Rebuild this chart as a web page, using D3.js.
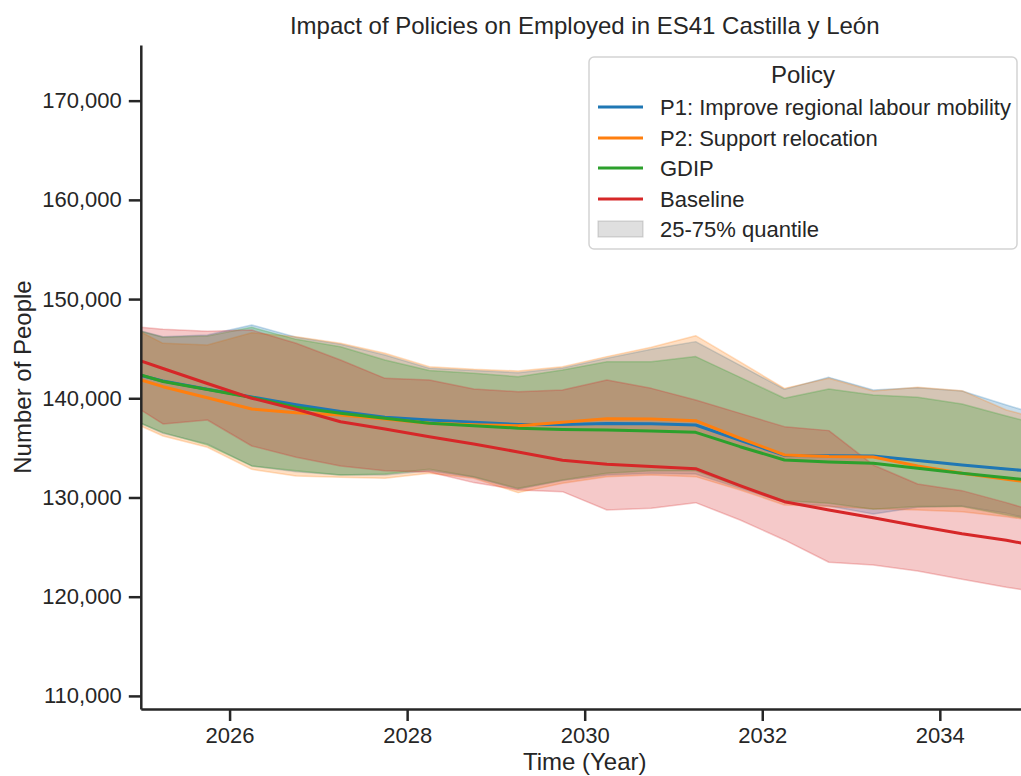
<!DOCTYPE html>
<html>
<head>
<meta charset="utf-8">
<script src="https://cdn.jsdelivr.net/npm/d3@7"></script>
<style>
  html, body { margin: 0; padding: 0; background: #fff; }
  svg { display: block; font-family: "Liberation Sans", Arial, Helvetica, sans-serif; }
</style>
</head>
<body>
<svg id="chart" width="1021" height="776"></svg>
<script>
// Time points (years, quarter offsets)
const years = [2025.0, 2025.25, 2025.75, 2026.25, 2026.75, 2027.25, 2027.75, 2028.25, 2028.75, 2029.25,
               2029.75, 2030.25, 2030.75, 2031.25, 2031.75, 2032.25, 2032.75, 2033.25, 2033.75, 2034.25,
               2034.75, 2035.0];

// Mean employed per policy
const p1Mean = [142300, 141740, 140920, 140130, 139350, 138660, 138080, 137810, 137580, 137360,
                137360, 137460, 137430, 137310, 135750, 134240, 134210, 134180, 133730, 133280,
                132870, 132670];
const p2Mean = [141840, 141170, 140060, 138920, 138550, 138320, 137910, 137480, 137340, 137240,
                137580, 137940, 137910, 137740, 135970, 134290, 134120, 134080, 133180, 132440,
                131830, 131560];
const gdipMean = [142350, 141690, 140890, 140080, 139100, 138490, 137980, 137480, 137240, 136990,
                  136860, 136800, 136700, 136570, 135120, 133780, 133580, 133450, 132940, 132440,
                  131990, 131760];
const baseMean = [143760, 143000, 141490, 140000, 138900, 137640, 136900, 136130, 135390, 134590,
                  133750, 133350, 133130, 132900, 131190, 129580, 128740, 127960, 127130, 126350,
                  125690, 125260];

// 25% quantile
const p1Q25 = [137480, 136470, 135390, 133180, 132600, 132270, 132270, 132700, 132030, 130820,
               131700, 132270, 132440, 132370, 130920, 129480, 129140, 128340, 129010, 129140,
               128400, 127900];
const p2Q25 = [137210, 136200, 135060, 132840, 132170, 132030, 131930, 132440, 131930, 130490,
               131430, 132100, 132270, 132100, 130760, 129240, 129080, 128870, 128740, 128570,
               128070, 127730];
const gdipQ25 = [137480, 136540, 135290, 133180, 132700, 132270, 132370, 132840, 132100, 130920,
                 131760, 132440, 132700, 132700, 131090, 129680, 129410, 128810, 129080, 129080,
                 128240, 127800];
const baseQ25 = [138820, 137410, 137810, 135190, 134050, 133180, 132700, 132570, 131500, 130760,
                 130590, 128740, 128910, 129480, 127730, 125720, 123470, 123200, 122590, 121750,
                 120950, 120610];

// 75% quantile
const p1Q75 = [146780, 146210, 146380, 147390, 146150, 145440, 144360, 143020, 142790, 142580,
               143050, 144030, 144940, 145710, 143320, 140900, 142110, 140840, 141070, 140740,
               139320, 138650];
const p2Q75 = [146680, 145540, 145370, 146610, 146210, 145540, 144530, 143190, 142920, 142750,
               143190, 144200, 145140, 146310, 143660, 141000, 142010, 140740, 141100, 140770,
               138820, 138220];
const gdipQ75 = [146750, 146150, 146280, 147150, 145940, 145200, 143860, 142790, 142520, 142180,
                 142850, 143690, 143690, 144200, 142110, 140000, 140940, 140330, 140100, 139430,
                 138220, 137640];
const baseQ75 = [147150, 146950, 146750, 146880, 145540, 143860, 142010, 141840, 140940, 140670,
                 140840, 141840, 141000, 139830, 138480, 137140, 136740, 133280, 131360, 130690,
                 129480, 128810];

const policyNames = ["P1: Improve regional labour mobility", "P2: Support relocation", "GDIP", "Baseline"];
const policyColors = ["#1f77b4", "#ff7f0e", "#2ca02c", "#d62728"];
const bandLabel = "25-75% quantile";

const xTicks = [2026, 2028, 2030, 2032, 2034];
const yTicks = [110000, 120000, 130000, 140000, 150000, 160000, 170000];

const series = [
  { name: policyNames[0], color: policyColors[0], mean: p1Mean, lo: p1Q25, hi: p1Q75 },
  { name: policyNames[1], color: policyColors[1], mean: p2Mean, lo: p2Q25, hi: p2Q75 },
  { name: policyNames[2], color: policyColors[2], mean: gdipMean, lo: gdipQ25, hi: gdipQ75 },
  { name: policyNames[3], color: policyColors[3], mean: baseMean, lo: baseQ25, hi: baseQ75 }
];

const ink = "#262626";
const svg = d3.select("#chart");

const plotLeft = 140.8, plotRight = 1028.6, plotTop = 45, plotBottom = 709;
const x = d3.scaleLinear().domain([2025, 2035]).range([plotLeft, plotRight]);
const y = d3.scaleLinear().domain([108680, 175610]).range([plotBottom, plotTop]);

svg.append("defs").append("clipPath").attr("id", "plotClip")
  .append("rect").attr("x", plotLeft).attr("y", plotTop)
  .attr("width", plotRight - plotLeft).attr("height", plotBottom - plotTop);

const plot = svg.append("g").attr("clip-path", "url(#plotClip)");

// Quantile bands
const area = d3.area()
  .x((d, i) => x(years[i]))
  .y0(d => y(d[0]))
  .y1(d => y(d[1]));

series.forEach(s => {
  const pts = s.lo.map((v, i) => [v, s.hi[i]]);
  plot.append("path")
    .datum(pts)
    .attr("d", area)
    .attr("fill", s.color)
    .attr("fill-opacity", 0.25)
    .attr("stroke", s.color)
    .attr("stroke-opacity", 0.25)
    .attr("stroke-width", 1.5)
    .attr("stroke-linejoin", "round");
});

// Mean lines
const line = d3.line()
  .x((d, i) => x(years[i]))
  .y(d => y(d));

series.forEach(s => {
  plot.append("path")
    .datum(s.mean)
    .attr("d", line)
    .attr("fill", "none")
    .attr("stroke", s.color)
    .attr("stroke-width", 3)
    .attr("stroke-linejoin", "round")
    .attr("stroke-linecap", "square");
});

// Axes
const xAxis = svg.append("g")
  .attr("transform", `translate(0,${plotBottom})`)
  .call(d3.axisBottom(x).tickValues(xTicks).tickFormat(d3.format("d")).tickSize(12).tickSizeOuter(0).tickPadding(6));
const yAxis = svg.append("g")
  .attr("transform", `translate(${plotLeft},0)`)
  .call(d3.axisLeft(y).tickValues(yTicks).tickFormat(d3.format(",")).tickSize(12).tickSizeOuter(0).tickPadding(7));

[xAxis, yAxis].forEach(g => {
  g.select(".domain").attr("stroke", ink).attr("stroke-width", 2.5);
  g.selectAll(".tick line").attr("stroke", ink).attr("stroke-width", 2.5);
  g.selectAll(".tick text").attr("fill", ink).attr("font-size", 22)
    .attr("font-family", "'Liberation Sans', Arial, sans-serif");
});

// Title and axis labels
svg.append("text")
  .attr("x", (plotLeft + plotRight) / 2).attr("y", 34)
  .attr("text-anchor", "middle").attr("fill", ink).attr("font-size", 24)
  .text("Impact of Policies on Employed in ES41 Castilla y León");

svg.append("text")
  .attr("x", (plotLeft + plotRight) / 2).attr("y", 770)
  .attr("text-anchor", "middle").attr("fill", ink).attr("font-size", 24)
  .text("Time (Year)");

svg.append("text")
  .attr("transform", `translate(31,${(plotTop + plotBottom) / 2}) rotate(-90)`)
  .attr("text-anchor", "middle").attr("fill", ink).attr("font-size", 24)
  .text("Number of People");

// Legend
const legend = svg.append("g");
legend.append("rect")
  .attr("x", 589).attr("y", 57).attr("width", 428).attr("height", 192).attr("rx", 5)
  .attr("fill", "#fff").attr("fill-opacity", 0.8)
  .attr("stroke", "#d3d3d3").attr("stroke-width", 1.5);

legend.append("text")
  .attr("x", 803).attr("y", 83)
  .attr("text-anchor", "middle").attr("fill", ink).attr("font-size", 24)
  .text("Policy");

const rowY = [107, 138, 168, 199, 229];
series.forEach((s, i) => {
  legend.append("line")
    .attr("x1", 598).attr("x2", 643).attr("y1", rowY[i]).attr("y2", rowY[i])
    .attr("stroke", s.color).attr("stroke-width", 3);
  legend.append("text")
    .attr("x", 660).attr("y", rowY[i]).attr("dy", "0.35em")
    .attr("fill", ink).attr("font-size", 22)
    .text(s.name);
});
legend.append("rect")
  .attr("x", 598).attr("y", rowY[4] - 8).attr("width", 45).attr("height", 16)
  .attr("fill", "#808080").attr("fill-opacity", 0.25)
  .attr("stroke", "#808080").attr("stroke-opacity", 0.3).attr("stroke-width", 1.2);
legend.append("text")
  .attr("x", 660).attr("y", rowY[4]).attr("dy", "0.35em")
  .attr("fill", ink).attr("font-size", 22)
  .text(bandLabel);
</script>
</body>
</html>
